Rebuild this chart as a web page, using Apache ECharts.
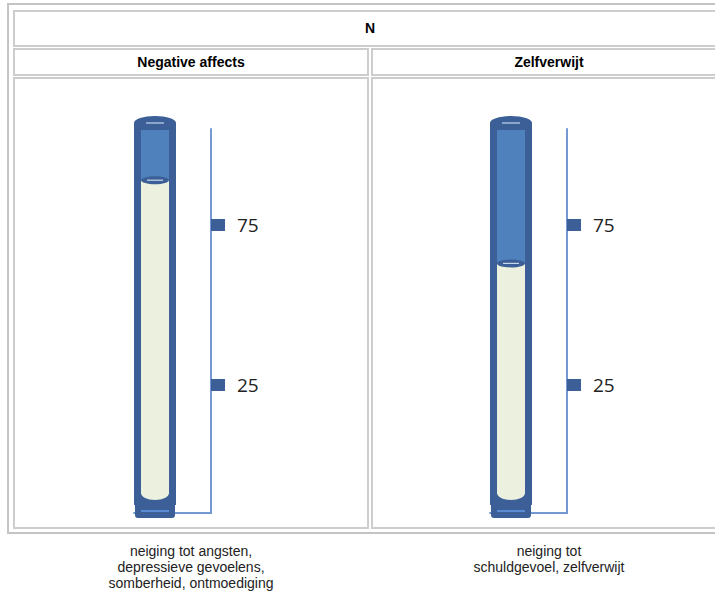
<!DOCTYPE html>
<html>
<head>
<meta charset="utf-8">
<script src="https://cdn.jsdelivr.net/npm/echarts@6/dist/echarts.min.js"></script>
<style>
html,body{margin:0;padding:0;background:#fff;}
#chart{width:715px;height:611px;}
</style>
</head>
<body>
<div id="chart"></div>
<script>
// ---- data ----
const tableTitle = 'N';
const scaleNames = ['Negative affects', 'Zelfverwijt'];
const scores = [89, 63];
const tickValues = [25, 75];
const descriptions = [
  'neiging tot angsten,\ndepressieve gevoelens,\nsomberheid, ontmoediging',
  'neiging tot\nschuldgevoel, zelfverwijt'
];
const axisRange = [-15, 105];

// ---- styles ----
const FRAME = '#3b5f96';
const BLUE = '#4f81bd';
const LIGHT = '#ebf1de';
const AXIS = '#7398d2';
const GRID = '#cdcdcd';
const COL_X = [14, 372];
const COL_W = 354;

function renderGauge(params, api) {
  const cs = params.coordSys;
  const cx = cs.x + 21;
  const level = api.coord([api.value(0), api.value(1)])[1];
  const capY = cs.y - 6;
  const bottomY = cs.y + cs.height;
  const children = [
    { type: 'rect', shape: { x: cx - 21, y: capY, width: 42, height: bottomY - 8 - capY }, style: { fill: FRAME } },
    { type: 'ellipse', shape: { cx: cx, cy: capY, rx: 21, ry: 7 }, style: { fill: FRAME } },
    { type: 'rect', shape: { x: cx - 14, y: capY + 7, width: 28, height: level - capY - 7 }, style: { fill: BLUE } },
    { type: 'rect', shape: { x: cx - 14, y: level, width: 28, height: bottomY - 20 - level }, style: { fill: LIGHT } },
    { type: 'ellipse', shape: { cx: cx, cy: bottomY - 20, rx: 14, ry: 7 }, style: { fill: LIGHT } },
    { type: 'line', shape: { x1: cx - 9, y1: capY, x2: cx + 9, y2: capY }, style: { stroke: '#a9bddb', lineWidth: 1.5 } },
    { type: 'ellipse', shape: { cx: cx, cy: level, rx: 14, ry: 4 }, style: { fill: FRAME } },
    { type: 'line', shape: { x1: cx - 8, y1: level, x2: cx + 8, y2: level }, style: { stroke: '#c9d6ea', lineWidth: 1.2 } },
    { type: 'rect', shape: { x: cx - 20, y: bottomY - 13, width: 40, height: 18, r: 3 }, style: { fill: FRAME } },
    { type: 'rect', shape: { x: cx - 14, y: bottomY - 3, width: 28, height: 2 }, style: { fill: '#5b8bd2' } }
  ];
  return { type: 'group', children: children };
}

const grids = [], xAxes = [], yAxes = [], series = [];
scaleNames.forEach(function (name, i) {
  grids.push({ left: 134 + 356 * i, top: 129, width: 77, height: 384 });
  xAxes.push({
    type: 'category', gridIndex: i, data: [name],
    axisLine: { show: true, onZero: false, lineStyle: { color: AXIS, width: 2 } },
    axisTick: { show: false }, axisLabel: { show: false }
  });
  yAxes.push({
    type: 'value', gridIndex: i, position: 'right',
    min: axisRange[0], max: axisRange[1],
    splitLine: { show: false },
    axisLine: { show: true, lineStyle: { color: AXIS, width: 2 } },
    axisTick: { show: true, customValues: tickValues, length: 14, lineStyle: { color: FRAME, width: 12 } },
    axisLabel: { customValues: tickValues, margin: 26, fontSize: 19, color: '#222', fontFamily: 'Open Sans' }
  });
  series.push({
    type: 'custom', xAxisIndex: i, yAxisIndex: i,
    renderItem: renderGauge,
    data: [[0, scores[i]]],
    silent: true
  });
});

const graphics = [
  { type: 'rect', shape: { x: 8, y: 4, width: 730, height: 529 }, style: { fill: 'none', stroke: '#c4c4c4', lineWidth: 2 }, z: 0 },
  { type: 'rect', shape: { x: 14, y: 11, width: 712, height: 35 }, style: { fill: 'none', stroke: GRID, lineWidth: 2 } },
  { type: 'text', style: { text: tableTitle, x: 370, y: 28, align: 'center', verticalAlign: 'middle', fontSize: 14, fontWeight: 'bold', fontFamily: 'Liberation Sans', fill: '#000' } }
];
scaleNames.forEach(function (name, i) {
  const x0 = COL_X[i];
  graphics.push(
    { type: 'rect', shape: { x: x0, y: 49, width: COL_W, height: 26 }, style: { fill: 'none', stroke: GRID, lineWidth: 2 } },
    { type: 'rect', shape: { x: x0, y: 78, width: COL_W, height: 450 }, style: { fill: 'none', stroke: GRID, lineWidth: 2 } },
    { type: 'text', style: { text: name, x: x0 + COL_W / 2, y: 62, align: 'center', verticalAlign: 'middle', fontSize: 14, fontWeight: 'bold', fontFamily: 'Liberation Sans', fill: '#000' } },
    { type: 'text', style: { text: descriptions[i], x: x0 + COL_W / 2, y: 543, align: 'center', verticalAlign: 'top', fontSize: 14, lineHeight: 16, fontFamily: 'Liberation Sans', fill: '#222' } }
  );
});

const chart = echarts.init(document.getElementById('chart'), null, { renderer: 'svg' });
chart.setOption({
  animation: false,
  backgroundColor: '#fff',
  grid: grids,
  xAxis: xAxes,
  yAxis: yAxes,
  series: series,
  graphic: graphics
});
</script>
</body>
</html>
